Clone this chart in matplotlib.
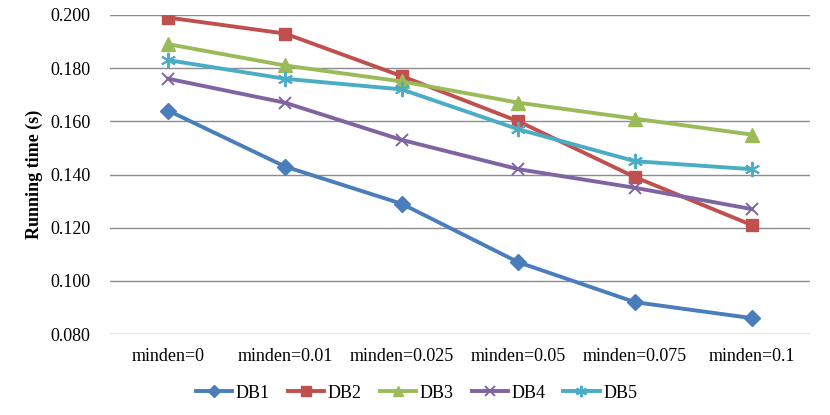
import matplotlib
matplotlib.use("Agg")
import matplotlib.pyplot as plt

categories = ["minden=0", "minden=0.01", "minden=0.025", "minden=0.05", "minden=0.075", "minden=0.1"]
db1 = [0.164, 0.143, 0.129, 0.107, 0.092, 0.086]
db2 = [0.199, 0.193, 0.177, 0.160, 0.139, 0.121]
db3 = [0.189, 0.181, 0.175, 0.167, 0.161, 0.155]
db4 = [0.176, 0.167, 0.153, 0.142, 0.135, 0.127]
db5 = [0.183, 0.176, 0.172, 0.157, 0.145, 0.142]
yticks = [0.080, 0.100, 0.120, 0.140, 0.160, 0.180, 0.200]

plt.rcParams['font.family'] = ['Liberation Serif', 'DejaVu Serif']

fig = plt.figure(figsize=(8.3, 4.15), dpi=100)
ax = fig.add_axes([0.1325, 0.195, 0.8435, 0.769])

# name, values, colour, marker, marker size
series = [
    ("DB1", db1, "#4A7EBB", "D", 8.5),
    ("DB2", db2, "#C0504D", "s", 9),
    ("DB3", db3, "#9BBB59", "^", 10),
    ("DB4", db4, "#8064A2", "x", 9),
    ("DB5", db5, "#4BACC6", (6, 2, 0), 11),
]
x = list(range(len(categories)))
for name, vals, col, mk, ms in series:
    thin = mk == "x" or isinstance(mk, tuple)
    ax.plot(x, vals, color=col, lw=2.8, marker=mk, markersize=ms,
            markeredgewidth=1.4 if thin else 1,
            markeredgecolor=col, markerfacecolor=col, label=name)

ax.set_xlim(-0.5, len(categories) - 0.5)
ax.set_ylim(0.080, 0.200)
ax.set_yticks(yticks)
ax.set_yticklabels([f"{v:.3f}" for v in yticks])
ax.set_xticks(x)
ax.set_xticklabels(categories)
ax.tick_params(axis='both', length=0, labelsize=13)
ax.tick_params(axis='x', pad=10)
ax.tick_params(axis='y', pad=14)
ax.grid(axis='y', color='#8c8c8c', lw=1)
ax.set_axisbelow(True)
for s in ax.spines.values():
    s.set_visible(False)
ax.set_ylabel("Running time (s)", fontsize=13, fontweight='bold', labelpad=5)

fig.legend(loc='center', bbox_to_anchor=(0.502, 0.053), ncol=5, frameon=False,
           fontsize=13, handlelength=2.0, handletextpad=0.2, columnspacing=1.0,
           markerscale=0.75)

fig.savefig("out.png", dpi=100)
